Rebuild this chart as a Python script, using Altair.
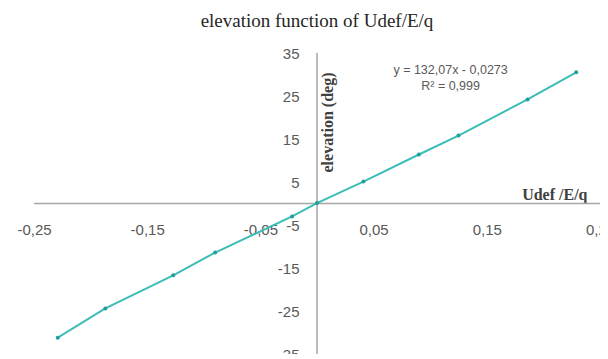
import altair as alt
import pandas as pd

# data
udef = [-0.229, -0.187, -0.127, -0.090, -0.022, 0.000, 0.041, 0.090, 0.125, 0.186, 0.229]
elev = [-31.2, -24.4, -16.7, -11.4, -3.0, 0.1, 5.1, 11.4, 15.8, 24.2, 30.5]
x_ticks = [-0.25, -0.15, -0.05, 0.05, 0.15, 0.25]
y_ticks = [-35, -25, -15, -5, 5, 15, 25, 35]
equation = ["y = 132,07x - 0,0273", "R² = 0,999"]
eq_x = 0.118
eq_y = [31.0, 27.4]

df = pd.DataFrame({"x": udef, "y": elev})
eq_df = pd.DataFrame({"x": [eq_x, eq_x], "y": eq_y, "t": equation})
zero_df = pd.DataFrame({"z": [0]})

W, H = 566, 301
xs = alt.Scale(domain=[-0.25, 0.25], nice=False, zero=False)
ys = alt.Scale(domain=[-35, 35], nice=False, zero=False)

lab = dict(labelFont="Liberation Sans", labelFontSize=15, labelColor="#595959",
           domain=False, ticks=False, grid=False)

xaxis = alt.Axis(values=x_ticks,
                 labelExpr="replace(replace(format(datum.value, '.2f'), '.', ','), '\u2212', '-')",
                 orient="bottom", offset=-(H / 2) + 1, labelPadding=18,
                 title="Udef /E/q", titleFont="Liberation Serif", titleFontWeight="bold",
                 titleFontSize=16, titleColor="#404040", titleAlign="right",
                 titleAnchor="end", titleX=W - 13, titleY=-10, titleBaseline="middle",
                 labelFlush=False, labelOverlap=False, **lab)
yaxis = alt.Axis(values=y_ticks,
                 labelExpr="replace(format(datum.value, 'd'), '\u2212', '-')",
                 orient="left", offset=-(W / 2), labelPadding=18,
                 title="elevation (deg)", titleFont="Liberation Serif", titleFontWeight="bold",
                 titleFontSize=16, titleColor="#404040", titleAngle=-90,
                 titleX=10, titleY=69, titleAlign="center", titleBaseline="middle",
                 labelFlush=False, labelOverlap=False, **lab)

vrule = alt.Chart(zero_df).mark_rule(color="#a6a6a6", strokeWidth=1.5).encode(
    x=alt.X("z:Q", scale=xs, axis=xaxis))
hrule = alt.Chart(zero_df).mark_rule(color="#a6a6a6", strokeWidth=1.5).encode(
    y=alt.Y("z:Q", scale=ys, axis=yaxis))

line = alt.Chart(df).mark_line(color="#3dbdb7", strokeWidth=2).encode(
    x=alt.X("x:Q", scale=xs), y=alt.Y("y:Q", scale=ys))
pts = alt.Chart(df).mark_point(filled=True, size=16, color="#1f9f9a", opacity=1).encode(
    x=alt.X("x:Q", scale=xs), y=alt.Y("y:Q", scale=ys))

eq = alt.Chart(eq_df).mark_text(font="Liberation Sans", fontSize=12.5, color="#595959",
                                align="center", baseline="middle").encode(
    x=alt.X("x:Q", scale=xs), y=alt.Y("y:Q", scale=ys), text="t:N")

chart = alt.layer(vrule, hrule, line, pts, eq).properties(
    width=W, height=H,
    title=alt.TitleParams("elevation function of Udef/E/q", font="Liberation Serif",
                          fontSize=19, fontWeight="normal", color="#262626",
                          anchor="middle", offset=15),
    autosize=alt.AutoSizeParams(type="none"),
    padding={"left": 26, "top": 45, "right": 0, "bottom": 0},
).configure_view(stroke=None)

chart.save("out.html", embed_options={"renderer": "svg", "actions": False})
